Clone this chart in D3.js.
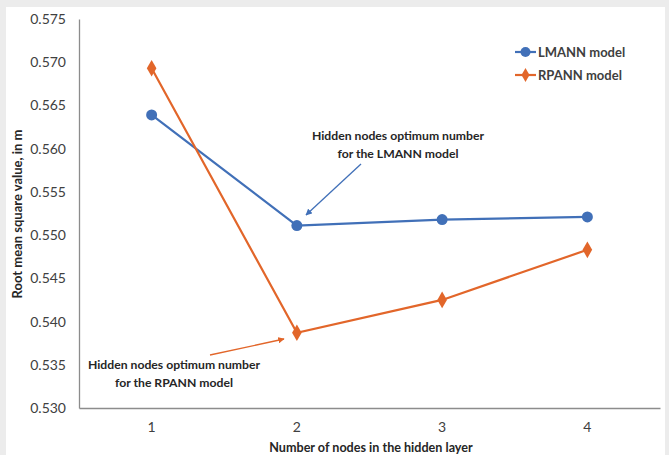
<!DOCTYPE html>
<html><head><meta charset="utf-8">
<script src="https://cdn.jsdelivr.net/npm/d3@7"></script>
<style>body{margin:0;background:#ececec;} svg{display:block;}</style>
</head><body>
<svg id="c" width="669" height="455"></svg>
<script>
const categories = ["1","2","3","4"];
const lmann = [0.5639, 0.5511, 0.5518, 0.5521];
const rpann = [0.5693, 0.5387, 0.5425, 0.5483];
const yTicks = [0.530,0.535,0.540,0.545,0.550,0.555,0.560,0.565,0.570,0.575];
const seriesNames = ["LMANN model","RPANN model"];
const colors = ["#4170b8","#e2662a"];
const font = "Lato, Liberation Sans, sans-serif";

const svg = d3.select("#c");
svg.append("rect").attr("x",6).attr("y",7).attr("width",659).attr("height",460).attr("fill","#fff");

const x = d3.scaleBand().domain(categories).range([79,660]);
const y = d3.scaleLinear().domain([0.530,0.575]).range([408,19]);

// axes
const ya = svg.append("g").attr("transform","translate(79,0)")
  .call(d3.axisLeft(y).tickValues(yTicks).tickFormat(d3.format(".3f")).tickSize(0).tickPadding(13));
ya.select(".domain").attr("stroke","#8c8c8c").attr("stroke-width",1.3);
ya.selectAll("text").attr("font-family",font).attr("font-size",14).attr("fill","#404040");

const xa = svg.append("g").attr("transform","translate(0,408)")
  .call(d3.axisBottom(x).tickSize(0).tickPadding(14));
xa.select(".domain").attr("stroke","#8c8c8c").attr("stroke-width",1.3);
xa.selectAll("text").attr("font-family",font).attr("font-size",14).attr("fill","#404040");

svg.append("text").attr("x",371).attr("y",452).attr("text-anchor","middle")
  .attr("font-family",font).attr("font-size",12.6).attr("font-weight",700).attr("fill","#262626")
  .text("Number of nodes in the hidden layer");
svg.append("text").attr("transform","translate(22,214) rotate(-90)").attr("text-anchor","middle")
  .attr("font-family",font).attr("font-size",13).attr("font-weight",700).attr("fill","#262626")
  .text("Root mean square value, in m");

const cx = d => x(d) + x.bandwidth()/2;
const line = d3.line().x((d,i)=>cx(categories[i])).y(d=>y(d));
const diamond = d3.symbol().type(d3.symbolDiamond).size(80);

svg.append("path").datum(lmann).attr("d",line).attr("fill","none").attr("stroke",colors[0]).attr("stroke-width",2.2);
svg.append("path").datum(rpann).attr("d",line).attr("fill","none").attr("stroke",colors[1]).attr("stroke-width",2.2);

svg.selectAll(".m1").data(lmann).enter().append("circle")
  .attr("cx",(d,i)=>cx(categories[i])).attr("cy",d=>y(d)).attr("r",5.5).attr("fill",colors[0]);
svg.selectAll(".m2").data(rpann).enter().append("path")
  .attr("d",diamond).attr("transform",(d,i)=>`translate(${cx(categories[i])},${y(d)})`).attr("fill",colors[1]);

// legend
seriesNames.forEach((n,i)=>{
  const ly = 52 + i*23;
  svg.append("line").attr("x1",515).attr("x2",536).attr("y1",ly).attr("y2",ly).attr("stroke",colors[i]).attr("stroke-width",2.2);
  if(i===0) svg.append("circle").attr("cx",525.5).attr("cy",ly).attr("r",5).attr("fill",colors[0]);
  else svg.append("path").attr("d",d3.symbol().type(d3.symbolDiamond).size(55)).attr("transform",`translate(525.5,${ly})`).attr("fill",colors[1]);
  svg.append("text").attr("x",538).attr("y",ly+5).attr("font-family",font).attr("font-size",13).attr("font-weight",700).attr("fill","#404040").text(n);
});

// annotations
function annot(cxp, y1, lines){
  lines.forEach((t,i)=>svg.append("text").attr("x",cxp).attr("y",y1+i*18).attr("text-anchor","middle")
    .attr("font-family",font).attr("font-size",12.2).attr("font-weight",700).attr("fill","#262626").text(t));
}
annot(398,140,["Hidden nodes optimum number","for the LMANN model"]);
annot(174,369,["Hidden nodes optimum number","for the RPANN model"]);

const defs = svg.append("defs");
colors.forEach((c,i)=>{
  defs.append("marker").attr("id","ah"+i).attr("viewBox","0 0 10 10").attr("refX",9).attr("refY",5)
    .attr("markerWidth",5).attr("markerHeight",5).attr("orient","auto")
    .append("path").attr("d","M0,0L10,5L0,10z").attr("fill",c);
});
svg.append("line").attr("x1",361).attr("y1",164).attr("x2",306).attr("y2",215).attr("stroke",colors[0]).attr("stroke-width",1.3).attr("marker-end","url(#ah0)");
svg.append("line").attr("x1",210).attr("y1",355).attr("x2",284).attr("y2",339).attr("stroke",colors[1]).attr("stroke-width",1.3).attr("marker-end","url(#ah1)");
</script>
</body></html>
